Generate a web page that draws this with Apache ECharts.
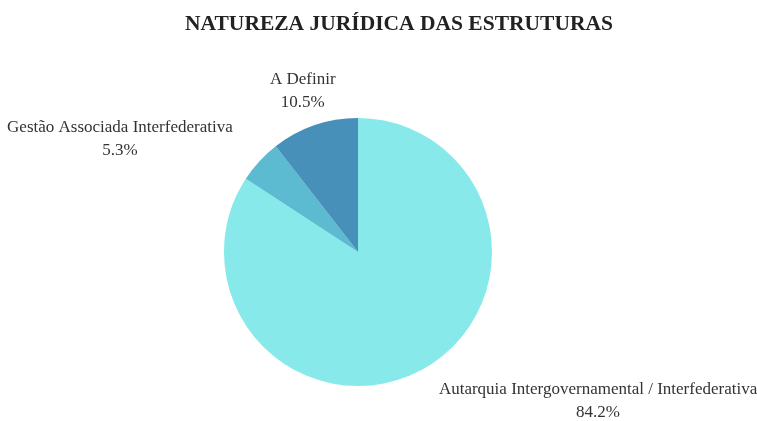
<!DOCTYPE html>
<html><head><meta charset="utf-8">
<script src="https://cdn.jsdelivr.net/npm/echarts@6/dist/echarts.min.js"></script>
<style>html,body{margin:0;padding:0;background:#fff}#c{width:757px;height:421px}</style>
</head><body><div id="c"></div>
<script>
var categories = ["Autarquia Intergovernamental / Interfederativa", "Gestão Associada Interfederativa", "A Definir"];
var values = [16, 1, 2];
var colors = ["#87E9E9", "#5CBAD1", "#4690B9"];
var titleText = "NATUREZA JURÍDICA DAS ESTRUTURAS";

var chart = echarts.init(document.getElementById('c'));
chart.setOption({
  animation: false,
  title: {
    text: titleText, left: 394, top: 8, textAlign: 'center',
    textStyle: {fontFamily: 'Liberation Serif', fontWeight: 'bold', fontSize: 21.5, color: '#222'}
  },
  series: [{
    type: 'pie',
    center: [358, 252],
    radius: 134,
    startAngle: 90,
    clockwise: true,
    data: categories.map(function (n, i) { return {name: n, value: values[i], itemStyle: {color: colors[i]}}; }),
    label: {
      show: true, position: 'outside', overflow: 'none',
      formatter: function (p) { return p.name + '\n' + p.percent.toFixed(1) + '%'; },
      fontFamily: 'Liberation Serif', fontSize: 17, color: '#333', lineHeight: 23
    },
    labelLine: {show: false, length: 36, length2: 0},
    labelLayout: function (p) {
      var pts = p.labelLinePoints;
      var cx = p.labelRect.x + p.labelRect.width / 2;
      if (p.dataIndex === 2 && pts) cx = pts[pts.length - 1][0];
      if (p.dataIndex === 0) cx -= 5;
      if (p.dataIndex === 1) cx += 3;
      return {x: cx, align: 'center'};
    },
    emphasis: {disabled: true}
  }]
});
</script></body></html>
